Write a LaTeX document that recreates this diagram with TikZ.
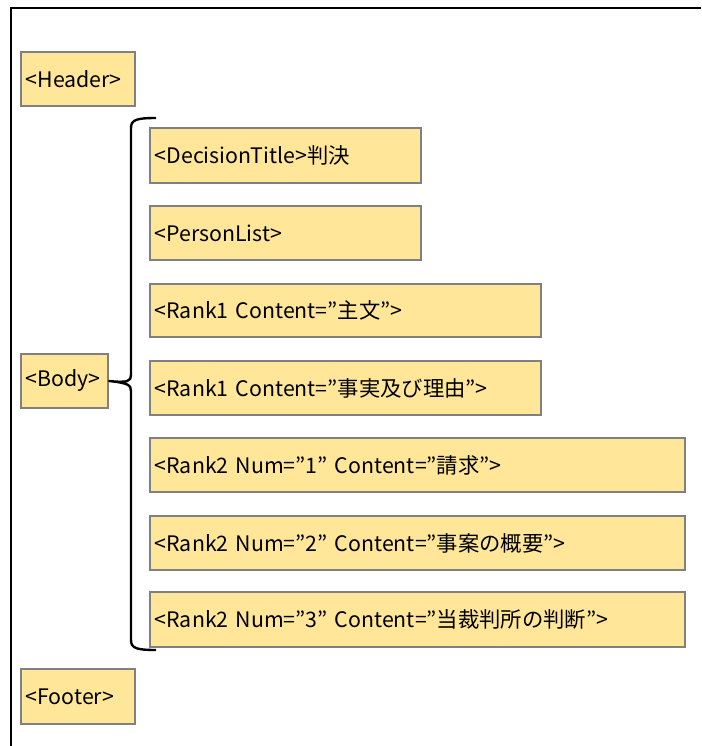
\documentclass[tikz,border=0pt]{standalone}
\usepackage{fontspec}
\setmainfont{Noto Sans CJK JP}
\definecolor{boxfill}{RGB}{255,230,153}
\definecolor{boxline}{RGB}{128,128,128}
\begin{document}
\begin{tikzpicture}[x=0.75pt,y=-0.75pt,
  tagbox/.style={draw=boxline,line width=1.5pt,fill=boxfill,anchor=north west,
    inner xsep=3.5pt,inner ysep=0pt,align=left,font=\fontsize{16pt}{19pt}\selectfont},
  frameline/.style={line width=1.5pt,black},
  bracestyle/.style={line width=1.8pt,black,line join=round}]
\useasboundingbox (0,0) rectangle (701,746);
% frame
\coordinate (fbl) at (11,746);
\coordinate (ftl) at (11,8);
\coordinate (ftr) at (701,8);
\draw[frameline] (fbl) -- (ftl) -- (ftr);
% boxes
\newcommand{\tagnode}[6]{%
  \node[tagbox,text width={(#4-#2)*0.75pt-7pt},minimum height={(#5-#3)*0.75pt}] (#1) at (#2,#3) {#6};}
\tagnode{header}{20}{51}{134}{105}{<Header>}
\tagnode{body}{20}{353}{107}{407}{<Body>}
\tagnode{footer}{20}{668}{134}{723}{<Footer>}
\tagnode{dt}{149}{127}{420}{182}{<DecisionTitle>判決}
\tagnode{pl}{149}{205}{420}{259}{<PersonList>}
\tagnode{ra}{149}{283}{540}{336}{<Rank1 Content=”主文”>}
\tagnode{rb}{149}{360}{540}{414}{<Rank1 Content=”事実及び理由”>}
\tagnode{rc}{149}{437}{684}{491}{<Rank2 Num=”1” Content=”請求”>}
\tagnode{rd}{149}{515}{684}{569}{<Rank2 Num=”2” Content=”事案の概要”>}
\tagnode{re}{149}{591}{684}{646}{<Rank2 Num=”3” Content=”当裁判所の判断”>}
% brace
\coordinate (btop) at (156,118);
\coordinate (bbot) at (156,650);
\draw[bracestyle] (btop) .. controls (136,118) and (131,120) .. (131,128) -- (131,375)
  .. controls (131,381) and (128,383) .. (body.east)
  .. controls (128,383) and (131,385) .. (131,391) -- (131,640)
  .. controls (131,648) and (136,650) .. (bbot);
\end{tikzpicture}
\end{document}
